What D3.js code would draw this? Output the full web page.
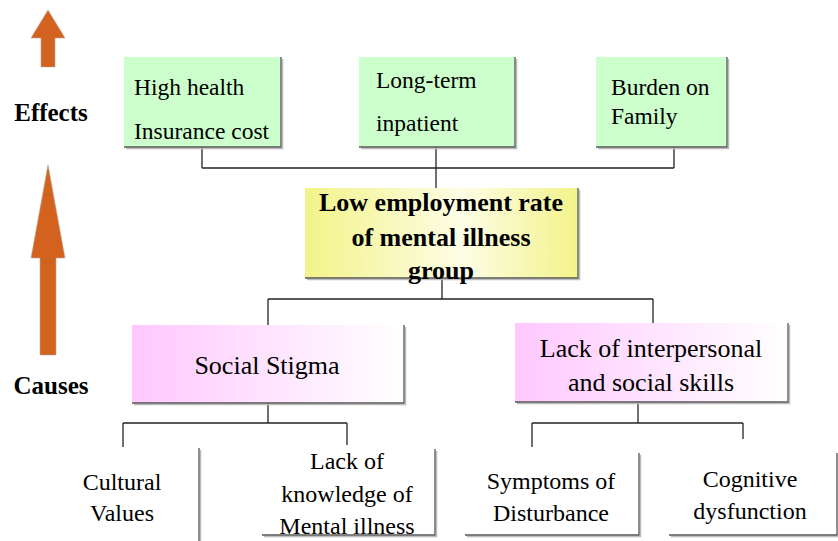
<!DOCTYPE html>
<html>
<head>
<meta charset="utf-8">
<script src="https://cdn.jsdelivr.net/npm/d3@7/dist/d3.min.js"></script>
<style>
  body { margin: 0; background: #fff; }
  svg { display: block; }
</style>
</head>
<body>
<svg id="chart"></svg>
<script>
// Diagram content
const sideLabels = ["Effects", "Causes"]
const effectLabels = [["High health", "Insurance cost"], ["Long-term", "inpatient"], ["Burden on", "Family"]]
const problemLabel = ["Low employment rate", "of mental illness", "group"]
const causeLabels = [["Social Stigma"], ["Lack of interpersonal", "and social skills"]]
const subCauseLabels = [
  [["Cultural", "Values"], ["Lack of", "knowledge of", "Mental illness"]],
  [["Symptoms of", "Disturbance"], ["Cognitive", "dysfunction"]]
]

// Geometry of the layout (pixels)
const width = 838
const height = 541

const layout = {
  arrows: [
    { tip: 10, headBase: 38, bottom: 67, head: 17, shaft: 7 },
    { tip: 165, headBase: 258, bottom: 355, head: 17, shaft: 8 }
  ],
  arrowX: 48,
  sideY: [112, 385],
  effects: [
    { x: 124, y: 57, w: 157, h: 90, tx: 134, ty: [87, 131], drop: 202 },
    { x: 359, y: 57, w: 156, h: 90, tx: 376, ty: [80, 123], drop: 436 },
    { x: 596, y: 57, w: 131, h: 90, tx: 611, ty: [87, 116], drop: 674 }
  ],
  effectBusY: 168,
  problem: { x: 305, y: 188, w: 273, h: 90, tx: 441, ty: [202, 237, 270], up: 436, down: 442 },
  causeBusY: 299,
  causes: [
    { x: 132, y: 325, w: 272, h: 78, tx: 267, ty: [365], up: 268, down: 268 },
    { x: 515, y: 323, w: 273, h: 79, tx: 651, ty: [348, 382], up: 653, down: 638 }
  ],
  subBusY: 423,
  subCauses: [
    [
      { x: 40, y: 448, w: 159, h: 110, tx: 122, ty: [482, 513], up: 123, upEnd: 447 },
      { x: 262, y: 449, w: 173, h: 86, tx: 347, ty: [461, 494, 526], up: 347, upEnd: 445 }
    ],
    [
      { x: 465, y: 453, w: 174, h: 82, tx: 551, ty: [481, 513], up: 532, upEnd: 447 },
      { x: 669, y: 453, w: 168, h: 82, tx: 750, ty: [479, 511], up: 743, upEnd: 439 }
    ]
  ]
}

const svg = d3.select("#chart")
  .attr("width", width)
  .attr("height", height)

svg.selectAll("*").remove()

// Gradients
const defs = svg.append("defs")
const yellow = defs.append("linearGradient").attr("id", "yellowGrad")
yellow.append("stop").attr("offset", "0%").attr("stop-color", "#f3f38a")
yellow.append("stop").attr("offset", "58%").attr("stop-color", "#fdfde6")
yellow.append("stop").attr("offset", "100%").attr("stop-color", "#f3f38a")
const pink = defs.append("linearGradient").attr("id", "pinkGrad")
pink.append("stop").attr("offset", "0%").attr("stop-color", "#ffc8ff")
pink.append("stop").attr("offset", "100%").attr("stop-color", "#ffffff")

// Elbow connectors
const lines = svg.append("g")
  .attr("fill", "none")
  .attr("stroke", "#222")
  .attr("stroke-width", 1.3)

const connectors = []
const p = layout.problem
// effects -> problem
layout.effects.forEach(b => connectors.push([[b.drop, b.y + b.h], [b.drop, layout.effectBusY]]))
connectors.push([[layout.effects[0].drop, layout.effectBusY], [layout.effects[2].drop, layout.effectBusY]])
connectors.push([[p.up, layout.effectBusY], [p.up, p.y]])
// problem -> causes
connectors.push([[p.down, p.y + p.h - 1], [p.down, layout.causeBusY]])
connectors.push([[layout.causes[0].up, layout.causeBusY], [layout.causes[1].up, layout.causeBusY]])
layout.causes.forEach(c => connectors.push([[c.up, layout.causeBusY], [c.up, c.y]]))
// causes -> sub causes
layout.causes.forEach((c, i) => {
  const subs = layout.subCauses[i]
  connectors.push([[c.down, c.y + c.h], [c.down, layout.subBusY]])
  connectors.push([[subs[0].up, layout.subBusY], [subs[1].up, layout.subBusY]])
  subs.forEach(s => connectors.push([[s.up, layout.subBusY], [s.up, s.upEnd]]))
})

lines.selectAll("path")
  .data(connectors)
  .join("path")
  .attr("d", d3.line())

// Boxes with a shadowed right and bottom edge
function drawBox(g, b, fill) {
  g.append("rect")
    .attr("x", b.x).attr("y", b.y)
    .attr("width", b.w).attr("height", b.h)
    .attr("fill", fill)
  g.append("path")
    .attr("d", d3.line()([[b.x + 2, b.y + b.h + 1.5], [b.x + b.w + 1.5, b.y + b.h + 1.5], [b.x + b.w + 1.5, b.y + 2]]))
    .attr("fill", "none")
    .attr("stroke", "#bbb")
    .attr("stroke-width", 1.5)
  g.append("path")
    .attr("d", d3.line()([[b.x, b.y + b.h], [b.x + b.w, b.y + b.h], [b.x + b.w, b.y]]))
    .attr("fill", "none")
    .attr("stroke", "#555")
    .attr("stroke-width", 1.3)
}

// Text uses the browser's default serif face
function drawLabel(g, b, labels, anchor, size, weight) {
  g.append("text")
    .attr("font-size", size)
    .attr("font-weight", weight)
    .attr("text-anchor", anchor)
    .attr("fill", "#000")
    .selectAll("tspan")
    .data(labels)
    .join("tspan")
    .attr("x", b.tx)
    .attr("y", (d, i) => b.ty[i])
    .attr("dy", "0.35em")
    .text(d => d)
}

// Effects
svg.append("g")
  .selectAll("g")
  .data(effectLabels)
  .join("g")
  .each(function (d, i) {
    const b = layout.effects[i]
    drawBox(d3.select(this), b, "#ccffcc")
    drawLabel(d3.select(this), b, d, "start", 23.5, "normal")
  })

// Central problem
const problemG = svg.append("g")
drawBox(problemG, p, "url(#yellowGrad)")
drawLabel(problemG, p, problemLabel, "middle", 26, "bold")

// Causes
svg.append("g")
  .selectAll("g")
  .data(causeLabels)
  .join("g")
  .each(function (d, i) {
    const b = layout.causes[i]
    drawBox(d3.select(this), b, "url(#pinkGrad)")
    drawLabel(d3.select(this), b, d, "middle", 26, "normal")
  })

// Sub causes
svg.append("g")
  .selectAll("g")
  .data(subCauseLabels.flat())
  .join("g")
  .each(function (d, i) {
    const b = layout.subCauses.flat()[i]
    drawBox(d3.select(this), b, "#fff")
    drawLabel(d3.select(this), b, d, "middle", 24, "normal")
  })

// Side arrows
const ax = layout.arrowX
svg.append("g")
  .selectAll("path")
  .data(layout.arrows)
  .join("path")
  .attr("d", a => d3.line()([
    [ax, a.tip], [ax + a.head, a.headBase], [ax + a.shaft, a.headBase], [ax + a.shaft, a.bottom],
    [ax - a.shaft, a.bottom], [ax - a.shaft, a.headBase], [ax - a.head, a.headBase]
  ]) + "Z")
  .attr("fill", "#d4621f")
  .attr("stroke", "#b8a898")
  .attr("stroke-width", 0.6)

// Side labels
svg.append("g")
  .selectAll("text")
  .data(sideLabels)
  .join("text")
  .attr("x", 51)
  .attr("y", (d, i) => layout.sideY[i])
  .attr("dy", "0.35em")
  .attr("text-anchor", "middle")
  .attr("font-size", 25)
  .attr("font-weight", "bold")
  .text(d => d)
</script>
</body>
</html>
